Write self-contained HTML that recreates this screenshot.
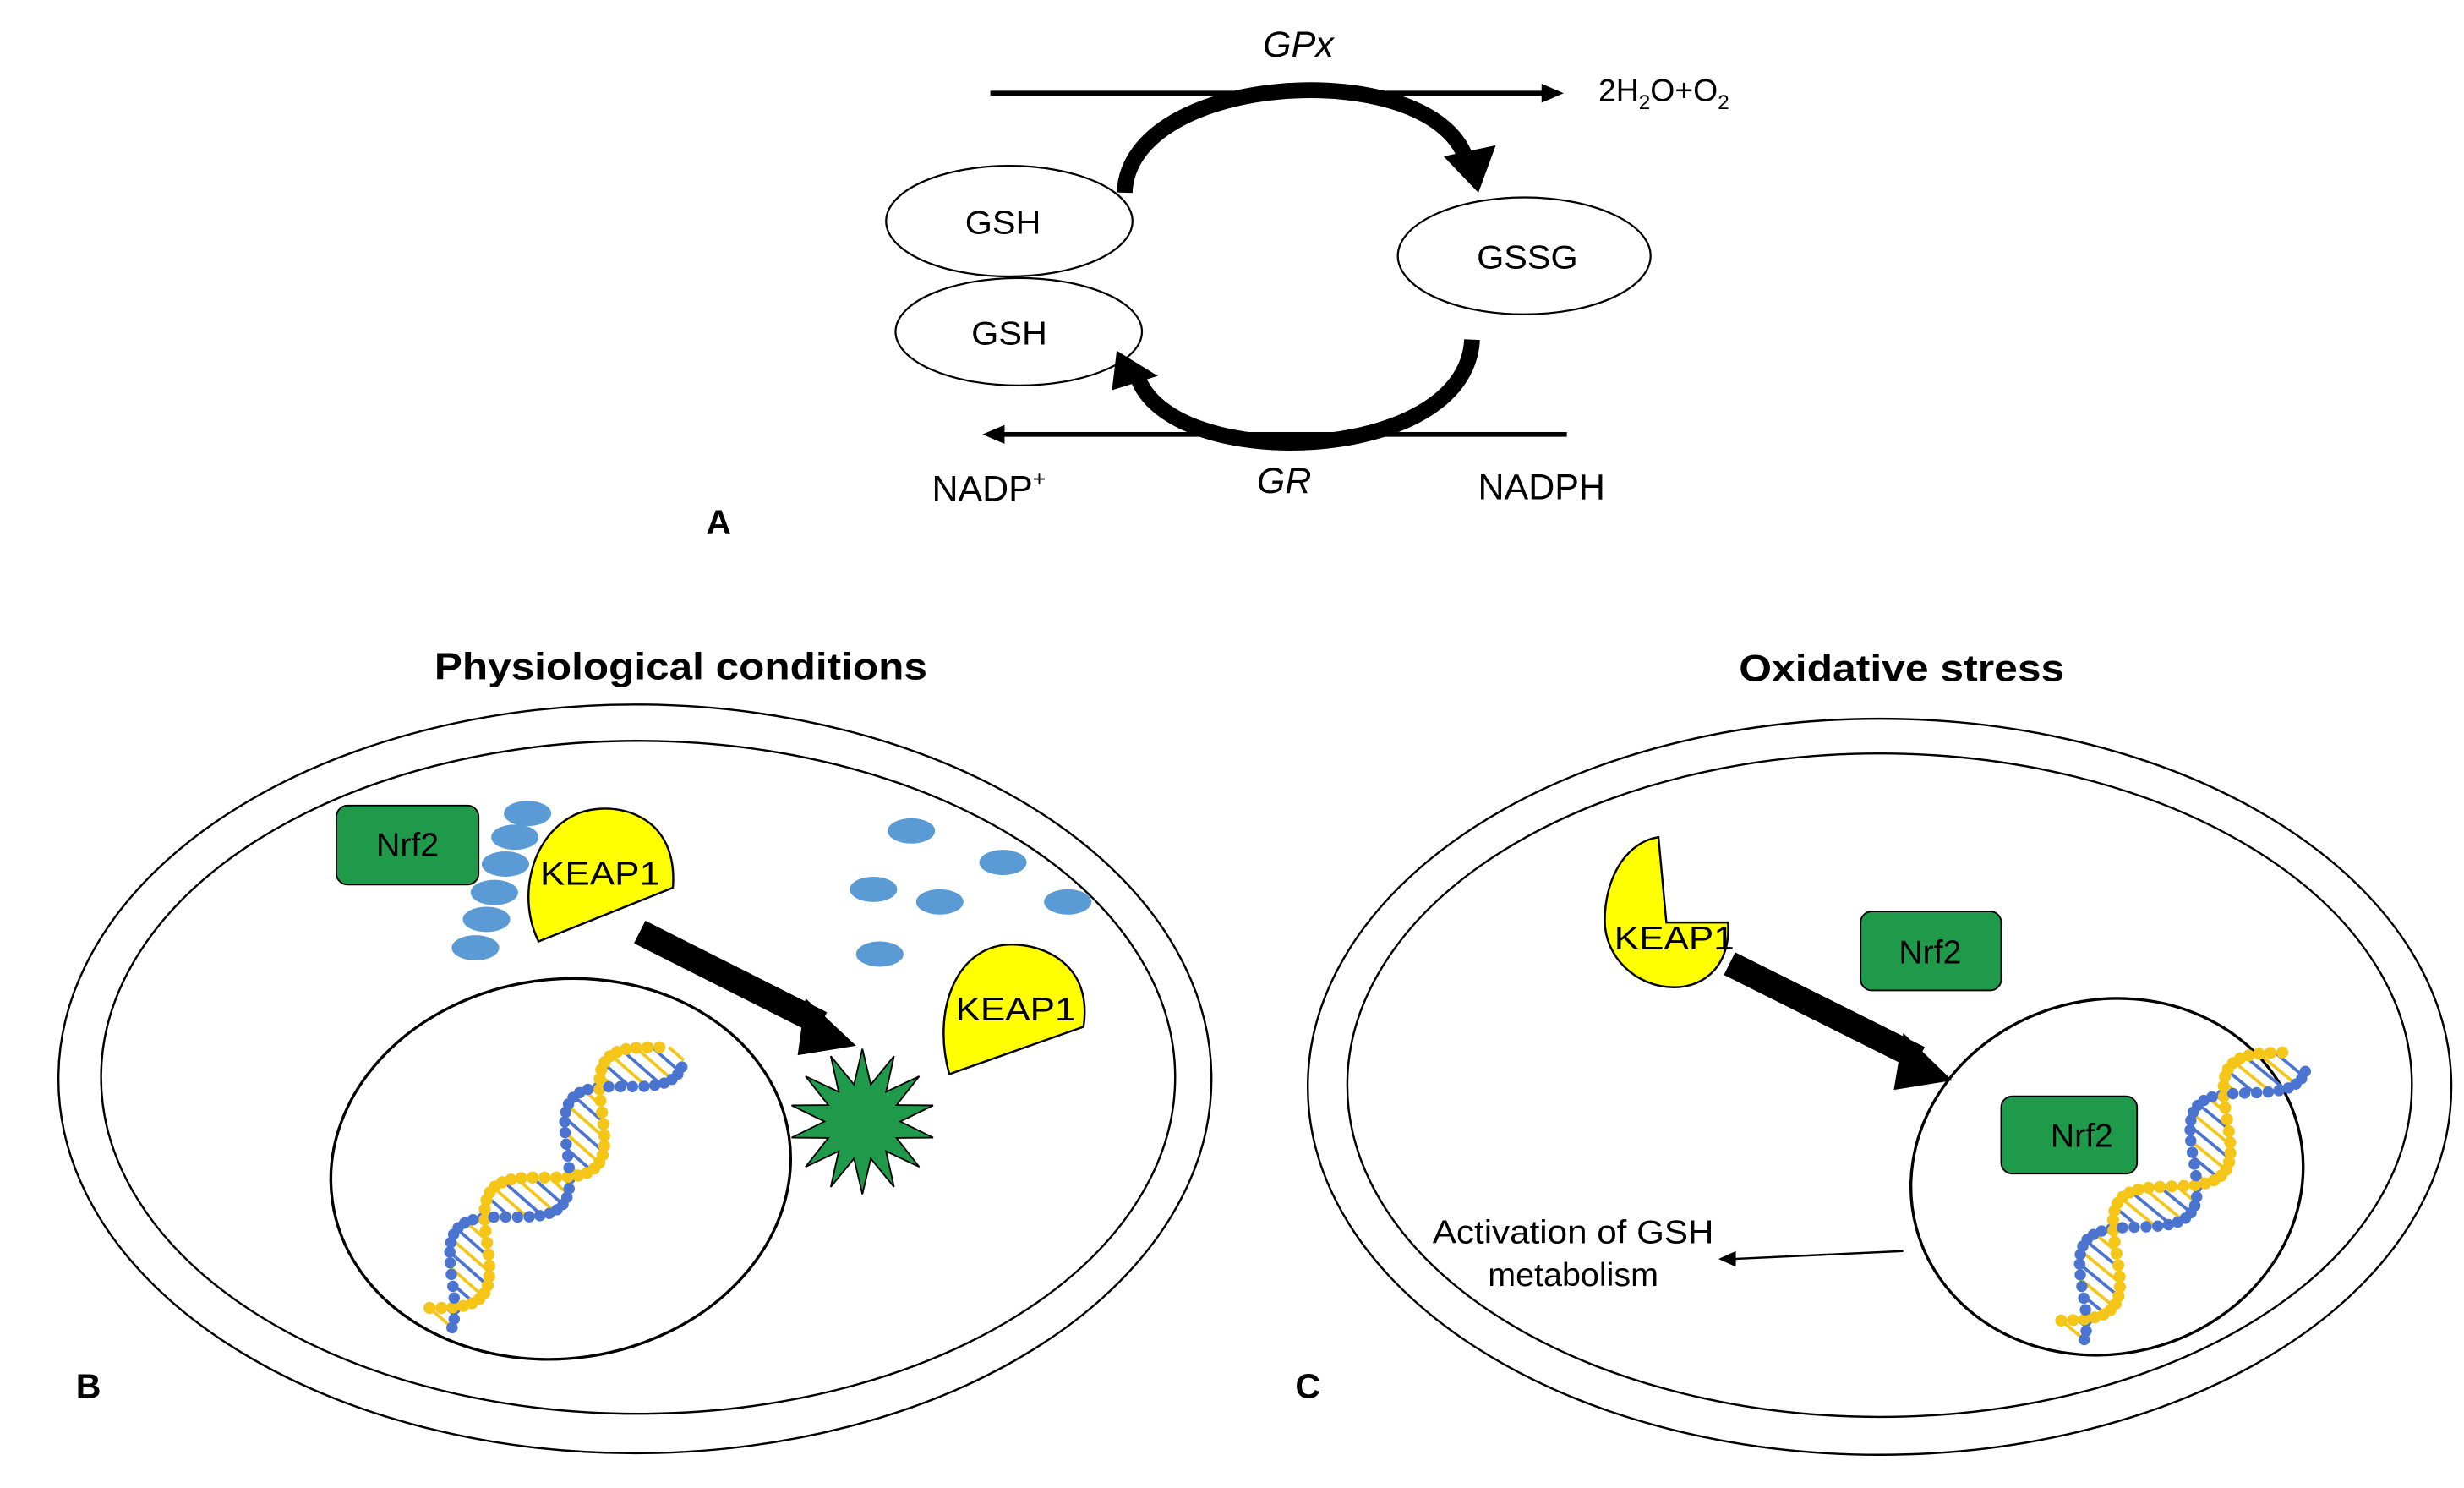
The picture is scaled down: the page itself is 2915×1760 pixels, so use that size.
<!DOCTYPE html>
<html><head><meta charset="utf-8"><style>
html,body{margin:0;padding:0;background:#fff}
svg{display:block}
text{font-family:"Liberation Sans",Arial,sans-serif}
</style></head><body>
<svg id="s" width="2915" height="1760" viewBox="0 0 1560 942" preserveAspectRatio="none" xmlns="http://www.w3.org/2000/svg">
<rect width="1560" height="942" fill="#fff"/>
<!-- Panel A -->
<line x1="627" y1="59" x2="978" y2="59" stroke="#000" stroke-width="3"/>
<polygon points="976,53 990,59 976,65" fill="#000"/>
<text x="822" y="36" font-size="23" font-style="italic" text-anchor="middle">GPx</text>
<text x="1012" y="64" font-size="20">2H<tspan font-size="13" dy="5">2</tspan><tspan dy="-5">O+O</tspan><tspan font-size="13" dy="5">2</tspan></text>
<ellipse cx="639" cy="140" rx="78" ry="35" fill="#fff" stroke="#000" stroke-width="1.2"/>
<ellipse cx="645" cy="210" rx="78" ry="34" fill="none" stroke="#000" stroke-width="1.2"/>
<ellipse cx="965" cy="162" rx="80" ry="37" fill="#fff" stroke="#000" stroke-width="1.2"/>
<text x="635" y="148" font-size="21" text-anchor="middle" textLength="48" lengthAdjust="spacingAndGlyphs">GSH</text>
<text x="639" y="218" font-size="21" text-anchor="middle" textLength="48" lengthAdjust="spacingAndGlyphs">GSH</text>
<text x="967" y="170" font-size="21" text-anchor="middle" textLength="64" lengthAdjust="spacingAndGlyphs">GSSG</text>
<path d="M712,122 C715,45 905,35 928,100" fill="none" stroke="#000" stroke-width="10"/>
<polygon points="914,99 947,92 936,122" fill="#000"/>
<path d="M932,215 C928,295 740,300 720,238" fill="none" stroke="#000" stroke-width="10"/>
<polygon points="707,222 733,238 704,247" fill="#000"/>
<line x1="992" y1="275" x2="634" y2="275" stroke="#000" stroke-width="3"/>
<polygon points="636,269 622,275 636,281" fill="#000"/>
<text x="590" y="317" font-size="23">NADP<tspan font-size="14" dy="-9">+</tspan></text>
<text x="813" y="312" font-size="23" font-style="italic" text-anchor="middle">GR</text>
<text x="976" y="316" font-size="23" text-anchor="middle">NADPH</text>
<text x="455" y="338" font-size="22" font-weight="bold" text-anchor="middle">A</text>

<!-- Panel B -->
<text x="431" y="430" font-size="24" font-weight="bold" text-anchor="middle" textLength="312" lengthAdjust="spacingAndGlyphs">Physiological conditions</text>
<ellipse cx="402" cy="683" rx="365" ry="237" fill="none" stroke="#000" stroke-width="1.3"/>
<ellipse cx="404" cy="682" rx="340" ry="213" fill="none" stroke="#000" stroke-width="1.3"/>
<ellipse cx="355" cy="740" rx="146" ry="120" fill="none" stroke="#000" stroke-width="1.8" transform="rotate(-8 355 740)"/>
<g id="dnaB" transform="translate(272,828) rotate(-48.6)"></g>
<rect x="213" y="510" width="90" height="50" rx="7" fill="#1f9a4b" stroke="#000" stroke-width="1"/>
<text x="258" y="542" font-size="21" text-anchor="middle">Nrf2</text>
<g fill="#5b9bd5">
<ellipse cx="334" cy="515" rx="15" ry="8"/><ellipse cx="326" cy="530" rx="15" ry="8"/><ellipse cx="320" cy="547" rx="15" ry="8"/>
<ellipse cx="313" cy="565" rx="15" ry="8"/><ellipse cx="308" cy="582" rx="15" ry="8"/><ellipse cx="301" cy="600" rx="15" ry="8"/>
<ellipse cx="577" cy="526" rx="15" ry="8"/><ellipse cx="635" cy="546" rx="15" ry="8"/><ellipse cx="553" cy="563" rx="15" ry="8"/>
<ellipse cx="595" cy="571" rx="15" ry="8"/><ellipse cx="676" cy="571" rx="15" ry="8"/><ellipse cx="557" cy="604" rx="15" ry="8"/>
</g>
<path d="M341,596 L426,562 C430,510 380,505 360,518 C335,533 328,570 341,596 Z" fill="#ffff00" stroke="#000" stroke-width="1.3"/>
<text x="380" y="560" font-size="21" text-anchor="middle" textLength="76" lengthAdjust="spacingAndGlyphs">KEAP1</text>
<path d="M601,680 L686,650 C692,610 660,597 638,598 C605,600 590,640 601,680 Z" fill="#ffff00" stroke="#000" stroke-width="1.3"/>
<text x="643" y="646" font-size="21" text-anchor="middle" textLength="76" lengthAdjust="spacingAndGlyphs">KEAP1</text>
<line x1="405" y1="590" x2="520" y2="648" stroke="#000" stroke-width="16"/>
<polygon points="510,632 542,662 505,668" fill="#000"/>
<polygon id="star" fill="#1f9a4b" stroke="#000" stroke-width="1"/>
<text x="56" y="885" font-size="22" font-weight="bold" text-anchor="middle">B</text>

<!-- Panel C -->
<text x="1204" y="431" font-size="24" font-weight="bold" text-anchor="middle" textLength="206" lengthAdjust="spacingAndGlyphs">Oxidative stress</text>
<ellipse cx="1190" cy="688" rx="362" ry="233" fill="none" stroke="#000" stroke-width="1.3"/>
<ellipse cx="1190" cy="687" rx="337" ry="210" fill="none" stroke="#000" stroke-width="1.3"/>
<ellipse cx="1334" cy="745" rx="125" ry="112" fill="none" stroke="#000" stroke-width="1.8" transform="rotate(-15 1334 745)"/>
<g id="dnaC" transform="translate(1305,836) rotate(-50.5)"></g>
<path d="M1055,584 L1094,584 C1096,610 1080,625 1060,625 C1035,625 1016,605 1016,583 C1016,555 1030,533 1050,530 Z" fill="#ffff00" stroke="#000" stroke-width="1.3"/>
<text x="1060" y="601" font-size="21" text-anchor="middle" textLength="76" lengthAdjust="spacingAndGlyphs">KEAP1</text>
<rect x="1178" y="577" width="89" height="50" rx="7" fill="#1f9a4b" stroke="#000" stroke-width="1"/>
<text x="1222" y="610" font-size="21" text-anchor="middle">Nrf2</text>
<rect x="1267" y="694" width="86" height="49" rx="7" fill="#1f9a4b" stroke="#000" stroke-width="1"/>
<text x="1318" y="726" font-size="21" text-anchor="middle">Nrf2</text>
<line x1="1095" y1="610" x2="1215" y2="670" stroke="#000" stroke-width="16"/>
<polygon points="1205,654 1236,684 1199,690" fill="#000"/>
<text x="996" y="787" font-size="21" text-anchor="middle" textLength="178" lengthAdjust="spacingAndGlyphs">Activation of GSH</text>
<text x="996" y="814" font-size="21" text-anchor="middle" textLength="108" lengthAdjust="spacingAndGlyphs">metabolism</text>
<line x1="1205" y1="792" x2="1098" y2="797" stroke="#000" stroke-width="1.3"/>
<polygon points="1099,792 1088,797 1099,802" fill="#000"/>
<text x="828" y="885" font-size="22" font-weight="bold" text-anchor="middle">C</text>
</svg>
<script>
(function(){
var NS="http://www.w3.org/2000/svg";
function el(t,a,p){var e=document.createElementNS(NS,t);for(var k in a)e.setAttribute(k,a[k]);p.appendChild(e);return e;}
function dna(id,L){
 var g=document.getElementById(id),A=20,k=2*Math.PI/110,ph=1.9;
 for(var x=0;x<=L;x+=7){
  var y1=A*Math.sin(k*x),y2=A*Math.sin(k*x+ph);
  el('line',{x1:x,y1:y1,x2:x,y2:y2,stroke:(x%14<7)?'#f5c518':'#4a74d0','stroke-width':2},g);
 }
 for(var x=0;x<=L;x+=5){
  var y1=A*Math.sin(k*x),y2=A*Math.sin(k*x+ph);
  el('circle',{cx:x,cy:y2,r:3.6,fill:'#4a74d0'},g);
  el('circle',{cx:x,cy:y1,r:3.8,fill:'#f5c518'},g);
 }
}
dna('dnaB',224);dna('dnaC',220);
var pts=[],cx=546,cy=710,n=14;
for(var i=0;i<2*n;i++){var r=(i%2==0)?46:24,a=-Math.PI/2+i*Math.PI/n;pts.push((cx+r*Math.cos(a)).toFixed(1)+','+(cy+r*Math.sin(a)).toFixed(1));}
document.getElementById('star').setAttribute('points',pts.join(' '));
})();
</script>
</body></html>
